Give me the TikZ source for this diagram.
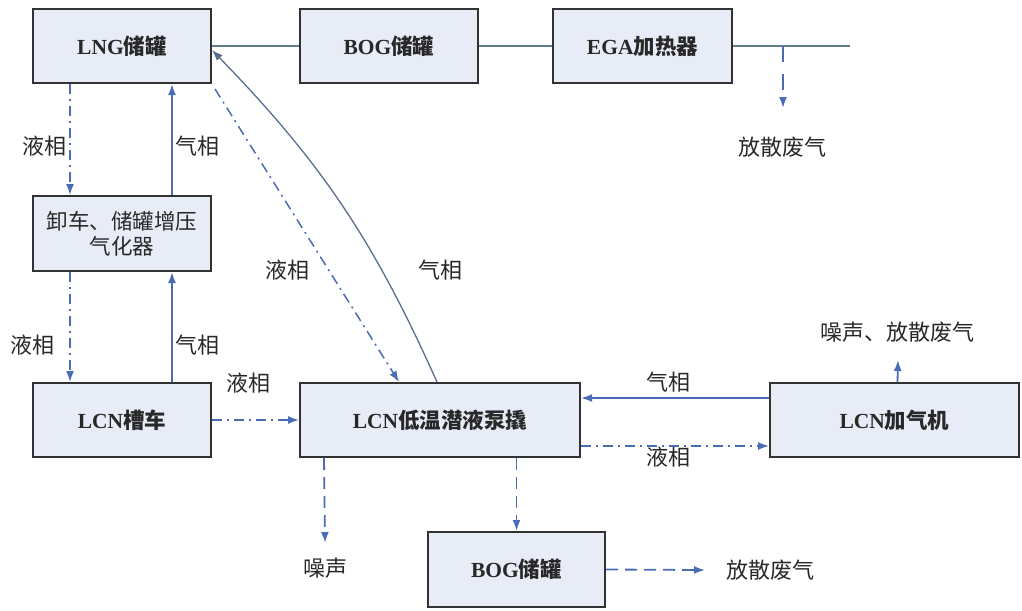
\documentclass[tikz,border=0pt]{standalone}
\usepackage{fontspec}
\setmainfont{Noto Sans CJK SC}
\newfontfamily\tnr{Liberation Serif}
\usetikzlibrary{arrows.meta,calc}
\definecolor{boxfill}{RGB}{232,236,247}
\definecolor{boxline}{RGB}{50,50,50}
\definecolor{textc}{RGB}{40,40,40}
\definecolor{blueline}{RGB}{74,108,180}
\definecolor{pipec}{RGB}{95,125,140}
\definecolor{curvec}{RGB}{90,110,145}
\begin{document}
\begin{tikzpicture}[x=1pt,y=-1pt,
  box/.style={draw=boxline,fill=boxfill,line width=2pt,minimum height=74pt,inner sep=0pt,
    font=\fontsize{21.5}{25}\selectfont\bfseries,text=textc,align=center},
  lbl/.style={font=\fontsize{22}{24}\selectfont,text=textc,inner sep=0pt},
  tip/.style={-{Latex[length=11pt,width=8pt]}},
  gas/.style={tip,draw=blueline,line width=1.8pt},
  liq/.style={tip,draw=blueline,line width=1.5pt,dash pattern=on 10pt off 5pt on 2pt off 5pt},
  dsh/.style={tip,draw=blueline,line width=1.8pt,dash pattern=on 12pt off 7pt},
  pipe/.style={draw=pipec,line width=1.5pt}]
\useasboundingbox (0,0) rectangle (1022,610);
% boxes
\node[box,minimum width=178pt] (lng) at (122,46) {{\tnr LNG}储罐};
\node[box,minimum width=178pt] (bog1) at (389,46) {{\tnr BOG}储罐};
\node[box,minimum width=179pt] (ega) at (642.5,46) {{\tnr EGA}加热器};
\node[box,minimum width=178pt,minimum height=75pt,font=\fontsize{21.5}{25}\selectfont\mdseries] (vap) at (122,233.5) {卸车、储罐增压\\气化器};
\node[box,minimum width=178pt] (tank) at (122,420) {{\tnr LCN}槽车};
\node[box,minimum width=280pt] (pump) at (440,420) {{\tnr LCN}低温潜液泵撬};
\node[box,minimum width=249pt] (disp) at (894.5,420) {{\tnr LCN}加气机};
\node[box,minimum width=177pt,minimum height=75pt] (bog2) at (516.5,569.5) {{\tnr BOG}储罐};
% free ends
\coordinate (pend) at (850,46);
\coordinate (ventA) at (783,46);
\coordinate (ventB) at (783,108);
\coordinate (noiseTip) at (325,543);
\coordinate (dispTip) at (898,360);
\coordinate (bogTip) at (705,570);
% labels
\node[lbl] (l1) at (45,146) {液相};
\node[lbl] (g1) at (197,146) {气相};
\node[lbl] (l2) at (32,345) {液相};
\node[lbl] (g2) at (197,345) {气相};
\node[lbl] (l3) at (248,383) {液相};
\node[lbl] (l4) at (287,270) {液相};
\node[lbl] (g3) at (440,270) {气相};
\node[lbl] (g4) at (668,382) {气相};
\node[lbl] (l5) at (668,457) {液相};
\node[lbl] (t1) at (782,147) {放散废气};
\node[lbl] (t2) at (897,332) {噪声、放散废气};
\node[lbl] (t3) at (325,568) {噪声};
\node[lbl] (t4) at (770,570) {放散废气};
% top pipe
\draw[pipe] (lng.east) -- (bog1.west);
\draw[pipe] (bog1.east) -- (ega.west);
\draw[pipe] (ega.east) -- (pend);
\draw[tip,draw=blueline,line width=1.8pt,dash pattern=on 16pt off 12pt] (ventA) -- (ventB);
% left column
\draw[liq] ([xshift=38pt]lng.south west) -- ([xshift=38pt]vap.north west);
\draw[gas] ([xshift=140pt]vap.north west) -- ([xshift=140pt]lng.south west);
\draw[liq] ([xshift=38pt]vap.south west) -- ([xshift=38pt]tank.north west);
\draw[gas] ([xshift=140pt]tank.north west) -- ([xshift=140pt]vap.south west);
\draw[liq] (tank.east) -- (pump.west);
% diagonals
\draw[liq] ([xshift=3pt,yshift=-5pt]lng.south east) -- ([xshift=100pt]pump.north west);
\draw[tip,draw=curvec,line width=1.3pt] ([xshift=138pt]pump.north west) to[bend right=10] ([yshift=-4pt]lng.east);
% right side
\draw[gas] ([yshift=22pt]disp.west) -- ([yshift=22pt]pump.east);
\draw[liq] ([yshift=-26pt]pump.east) -- ([yshift=-26pt]disp.west);
\draw[gas] ([xshift=3pt]disp.north) -- (dispTip);
% bottom
\draw[dsh] ([xshift=25pt]pump.south west) -- (noiseTip);
\draw[dsh] (pump.south -| bog2.north) -- (bog2.north);
\draw[dsh] (bog2.east) -- (bogTip);
\end{tikzpicture}
\end{document}
